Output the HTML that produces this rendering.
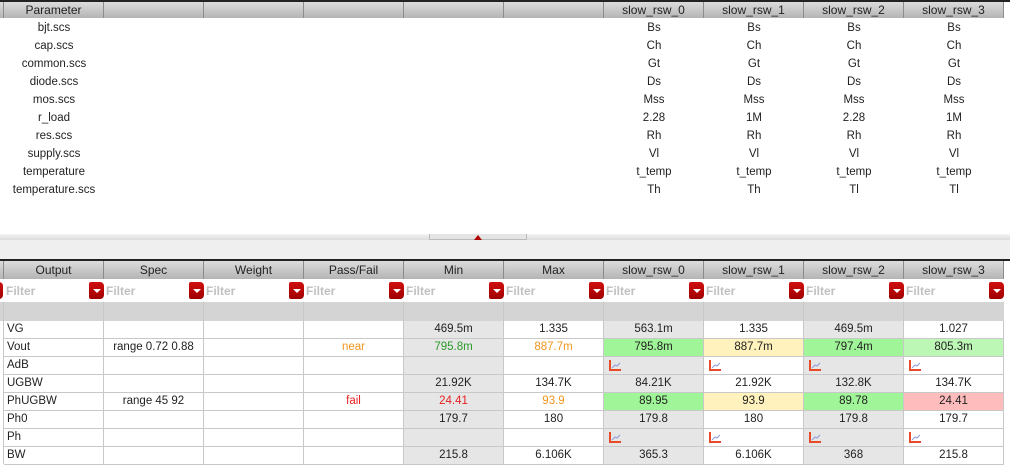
<!DOCTYPE html>
<html><head><meta charset="utf-8"><style>
body{margin:0;width:1010px;height:469px;overflow:hidden;background:#fff;font-family:"Liberation Sans","DejaVu Sans",sans-serif;font-size:11.5px;color:#222;position:relative}
.a{position:absolute;box-sizing:border-box}
.hd{background:linear-gradient(#dcdcdc,#b4b4b4);border-right:1px solid #8c8c8c;text-align:center;line-height:16px;color:#222;font-size:12px}
.c{text-align:center;line-height:18px;height:18px}
.cell{border-right:1px solid #c8c8c8;border-bottom:1px solid #c8c8c8;height:18px;line-height:17px;text-align:center;white-space:nowrap}
.flt{color:#c0c0c0;line-height:21px;padding-left:2px;font-weight:bold;font-size:12px}
.btn{background:linear-gradient(#d01010,#a00000);border-radius:2px 4px 4px 2px;width:15px;height:17px}
.btn:after{content:"";position:absolute;left:4px;top:7px;border-left:4px solid transparent;border-right:4px solid transparent;border-top:4px solid #fff}
</style></head><body>
<div class="a" style="left:0;top:0;width:1010px;height:2px;background:#222"></div>
<div id="topT"></div>
<div class="a" style="left:0;top:234px;width:1010px;height:6px;background:linear-gradient(#f4f4f4,#dcdcdc)"></div>
<div class="a" style="left:429px;top:234px;width:98px;height:6px;border:1px solid #bbb;border-top:none;background:#e4e4e4"></div>
<div class="a" style="left:474px;top:235px;border-left:4px solid transparent;border-right:4px solid transparent;border-bottom:5px solid #b00000"></div>
<div class="a" style="left:0;top:240px;width:1010px;height:19px;background:#efefef"></div>
<div class="a" style="left:0;top:259px;width:1010px;height:2px;background:#222"></div>
<div class="a" style="left:0;top:279px;width:1004px;height:22px;background:#fff"></div>
<div class="a" style="left:0;top:302px;width:1004px;height:19px;background:#d4d4d4"></div>
<div class="a btn" style="left:-12px;top:282px"></div>
<div id="botT"></div>
<script>
const params=["bjt.scs","cap.scs","common.scs","diode.scs","mos.scs","r_load","res.scs","supply.scs","temperature","temperature.scs"];
const topHeads=["Parameter","","","","","","slow_rsw_0","slow_rsw_1","slow_rsw_2","slow_rsw_3"];
const pv0=["Bs","Ch","Gt","Ds","Mss","2.28","Rh","Vl","t_temp","Th"];
const pv1=["Bs","Ch","Gt","Ds","Mss","1M","Rh","Vl","t_temp","Th"];
const pv2=["Bs","Ch","Gt","Ds","Mss","2.28","Rh","Vl","t_temp","Tl"];
const pv3=["Bs","Ch","Gt","Ds","Mss","1M","Rh","Vl","t_temp","Tl"];
const heads=["Output","Spec","Weight","Pass/Fail","Min","Max","slow_rsw_0","slow_rsw_1","slow_rsw_2","slow_rsw_3"];
const outputs=["VG","Vout","AdB","UGBW","PhUGBW","Ph0","Ph","BW"];
const specs=["","range 0.72 0.88","","","range 45 92","","",""];
const passfail=["","near","","","fail","","",""];
const mins=["469.5m","795.8m","","21.92K","24.41","179.7","","215.8"];
const maxs=["1.335","887.7m","","134.7K","93.9","180","","6.106K"];
const r0=["563.1m","795.8m","#","84.21K","89.95","179.8","#","365.3"];
const r1=["1.335","887.7m","#","21.92K","93.9","180","#","6.106K"];
const r2=["469.5m","797.4m","#","132.8K","89.78","179.8","#","368"];
const r3=["1.027","805.3m","#","134.7K","24.41","179.7","#","215.8"];
const textColors={"1-3":"#f0961e","4-3":"#e62020","1-4":"#2a9a2a","1-5":"#f0961e","4-4":"#e62020","4-5":"#f0961e"};
const bgColors={"1-6":"#a0f598","1-7":"#fff2bc","1-8":"#a0f598","1-9":"#bdf7b6","4-6":"#a0f598","4-7":"#fff2bc","4-8":"#a0f598","4-9":"#ffbcbc"};
const colX=i=>4+100*i;
const topEl=document.getElementById('topT'), botEl=document.getElementById('botT');
function mk(parent,cls,x,y,w,h,txt){const d=document.createElement('div');d.className='a '+cls;d.style.left=x+'px';d.style.top=y+'px';d.style.width=w+'px';d.style.height=h+'px';if(txt!==undefined)d.textContent=txt;parent.appendChild(d);return d;}
const lb=mk(topEl,'hd',0,2,4,16,'');


topHeads.forEach((t,i)=>{const d=mk(topEl,'hd',colX(i),2,100,16,t);

});
const topCols=[params,null,null,null,null,null,pv0,pv1,pv2,pv3];
topCols.forEach((arr,i)=>{if(!arr)return;arr.forEach((v,r)=>{const d=mk(topEl,'c',colX(i),19+18*r,100,18,v);

});});
const lb2=mk(botEl,'hd',0,261,4,18,'');


heads.forEach((t,i)=>{const d=mk(botEl,'hd',colX(i),261,100,18,t);d.style.lineHeight='18px';


const f=mk(botEl,'flt',colX(i),281,100,21,'Filter');


const b=mk(botEl,'btn',colX(i)+85,282,15,17);


const v=mk(botEl,'',colX(i)-1,302,1,162);v.style.background='#c8c8c8';

});
const cols=[outputs,specs,null,passfail,mins,maxs,r0,r1,r2,r3];
const grayCols=[4,6,8];
const icon='<svg width="14" height="13" style="position:absolute;left:4px;top:2px"><path d="M2 1V11H13" stroke="#e84a2a" stroke-width="2" fill="none"/><path d="M4 9L7 6L9 7L12 4" stroke="#8a9ad8" stroke-width="1" fill="none"/></svg>';
outputs.forEach((o,r)=>{for(let i=0;i<10;i++){const arr=cols[i];const v=arr?arr[r]:"";
const d=mk(botEl,'cell',colX(i),321+18*r,100,18);
const key=r+'-'+i;
d.style.background=bgColors[key]||(grayCols.includes(i)?'#e6e6e6':'#fff');
if(i===0){d.style.textAlign='left';d.style.paddingLeft='3px';}
if(textColors[key])d.style.color=textColors[key];
if(v==='#')d.innerHTML=icon;else d.textContent=v;

}});
</script>
</body></html>
